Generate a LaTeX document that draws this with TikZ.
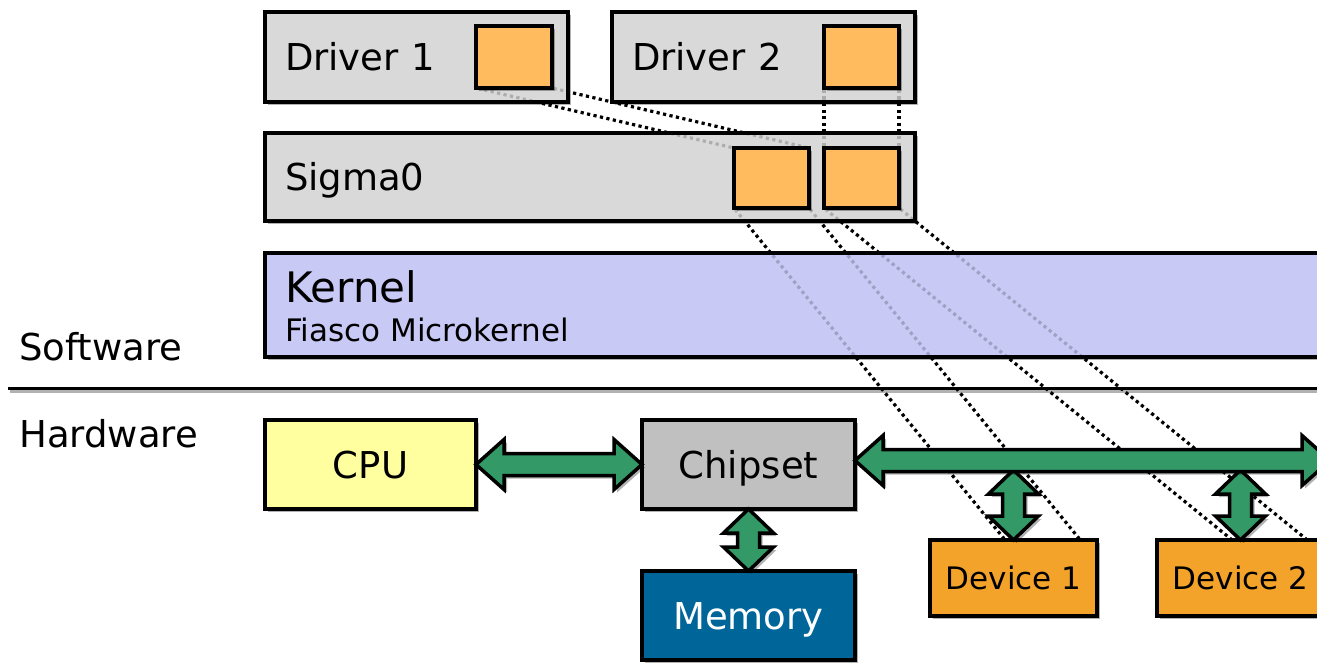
\documentclass[tikz,border=0pt]{standalone}
\usepackage{fontspec}
\setmainfont{DejaVu Sans}
\usetikzlibrary{calc,shadows}
\definecolor{boxgray}{HTML}{D9D9D9}
\definecolor{sqorange}{HTML}{FFBB5E}
\definecolor{kernblue}{HTML}{C9C9F6}
\definecolor{cpuyellow}{HTML}{FFFF9F}
\definecolor{chipgray}{HTML}{C0C0C0}
\definecolor{memblue}{HTML}{006699}
\definecolor{devorange}{HTML}{F4A32A}
\definecolor{busgreen}{HTML}{339966}
\def\arHL{28pt}\def\arHH{25pt}\def\arSH{11pt}
\def\avHL{24pt}\def\avHH{25pt}\def\avSH{11pt}
\newcommand\hfatpath[5]{%
 \path[#3] let \p1=(#1), \p2=(#2) in
 (\x1+#4,\y1-#5) -- (\x1+\arHL+#4,\y1+\arHH-#5) -- (\x1+\arHL+#4,\y1+\arSH-#5)
 -- (\x2-\arHL+#4,\y1+\arSH-#5) -- (\x2-\arHL+#4,\y1+\arHH-#5) -- (\x2+#4,\y1-#5)
 -- (\x2-\arHL+#4,\y1-\arHH-#5) -- (\x2-\arHL+#4,\y1-\arSH-#5)
 -- (\x1+\arHL+#4,\y1-\arSH-#5) -- (\x1+\arHL+#4,\y1-\arHH-#5) -- cycle;}
\newcommand\hfat[2]{\hfatpath{#1}{#2}{arrshadow}{3pt}{3pt}\hfatpath{#1}{#2}{arrbody}{0pt}{0pt}}
\newcommand\vfatpath[5]{%
 \path[#3] let \p1=(#1), \p2=(#2) in
 (\x1+#4,\y1-#5) -- (\x1+\avHH+#4,\y1-\avHL-#5) -- (\x1+\avSH+#4,\y1-\avHL-#5)
 -- (\x1+\avSH+#4,\y2+\avHL-#5) -- (\x1+\avHH+#4,\y2+\avHL-#5) -- (\x1+#4,\y2-#5)
 -- (\x1-\avHH+#4,\y2+\avHL-#5) -- (\x1-\avSH+#4,\y2+\avHL-#5)
 -- (\x1-\avSH+#4,\y1-\avHL-#5) -- (\x1-\avHH+#4,\y1-\avHL-#5) -- cycle;}
\newcommand\vfat[2]{\vfatpath{#1}{#2}{arrshadow}{3pt}{3pt}\vfatpath{#1}{#2}{arrbody}{0pt}{0pt}}
\begin{document}
\begin{tikzpicture}[x=1pt,y=-1pt,
  shad/.style={drop shadow={shadow xshift=3pt,shadow yshift=-3pt,fill=black,opacity=0.3}},
  basebox/.style={draw=black,line width=3.5pt,inner sep=0pt,outer sep=0pt,anchor=north west,shad,
    text height=27pt,text depth=0pt,font=\fontsize{37}{40}\selectfont},
  swbox/.style={basebox,fill=boxgray,align=left,inner xsep=20pt},
  kbox/.style={basebox,fill=kernblue},
  sq/.style={basebox,fill=sqorange},
  hwbox/.style={basebox,align=center},
  devbox/.style={basebox,fill=devorange,align=center,font=\fontsize{31}{34}\selectfont,text height=22.6pt},
  lbl/.style={anchor=base west,inner sep=0pt,font=\fontsize{37}{40}\selectfont},
  dotline/.style={line width=3.2pt,dash pattern=on 3.2pt off 3.4pt,shorten <=1.8pt,shorten >=1.8pt},
  arrshadow/.style={fill=black,opacity=0.3},
  arrbody/.style={fill=busgreen,draw=black,line width=3.5pt,line join=miter}]
\useasboundingbox (0,0) rectangle (1317,662);
\clip (0,0) rectangle (1317,662);
% software boxes
\node[swbox,minimum width=303pt,minimum height=90pt,text width=263pt] (drv1) at (265,12) {Driver 1};
\node[swbox,minimum width=303pt,minimum height=90pt,text width=263pt] (drv2) at (612,12) {Driver 2};
\node[swbox,minimum width=650pt,minimum height=88pt,text width=610pt] (sig) at (265,133) {Sigma0};
\node[kbox,minimum width=1065pt,minimum height=104pt] (kern) at (265,253) {};
\node[lbl,font=\fontsize{42}{45}\selectfont] (ktitle) at (285,302) {Kernel};
\node[lbl,font=\fontsize{31}{34}\selectfont] (ksub) at (285,341) {Fiasco Microkernel};
% memory regions
\node[sq,minimum width=76pt,minimum height=62pt] (d1s) at (476,26) {};
\node[sq,minimum width=75pt,minimum height=62pt] (d2s) at (824,26) {};
\node[sq,minimum width=75pt,minimum height=60pt] (s1s) at (734,148) {};
\node[sq,minimum width=75pt,minimum height=60pt] (s2s) at (824,148) {};
% separator
\coordinate (sepL) at (8,388);
\coordinate (sepR) at (1330,388);
\draw[line width=3pt,black!30] ($(sepL)+(2,3)$) -- ($(sepR)+(2,3)$);
\draw[line width=3pt] (sepL) -- (sepR);
\node[lbl] (swl) at (19,360) {Software};
\node[lbl] (hwl) at (19,447) {Hardware};
% hardware boxes
\node[hwbox,fill=cpuyellow,minimum width=211pt,minimum height=89pt] (cpu) at (265,420) {CPU};
\node[hwbox,fill=chipgray,minimum width=213pt,minimum height=89pt] (chip) at (642,420) {Chipset};
\node[hwbox,fill=memblue,text=white,minimum width=213pt,minimum height=89pt] (mem) at (642,571) {Memory};
\node[devbox,minimum width=167pt,minimum height=76pt] (dev1) at (930,540) {Device 1};
\node[devbox,minimum width=167pt,minimum height=76pt] (dev2) at (1157,540) {Device 2};
\coordinate (d1a) at ($(dev1.north west)!0.45!(dev1.north east)$);
\coordinate (d1b) at ($(dev1.north west)!0.9!(dev1.north east)$);
\coordinate (d2a) at ($(dev2.north west)!0.45!(dev2.north east)$);
\coordinate (d2b) at ($(dev2.north west)!0.9!(dev2.north east)$);
% dotted mapping lines: faint inside the boxes
\begin{scope}
\clip ([shift={(1.75,1.75)}]drv1.north west) rectangle ([shift={(-1.75,-1.75)}]drv1.south east)
      ([shift={(1.75,1.75)}]drv2.north west) rectangle ([shift={(-1.75,-1.75)}]drv2.south east)
      ([shift={(1.75,1.75)}]sig.north west) rectangle ([shift={(-1.75,-1.75)}]sig.south east)
      ([shift={(1.75,1.75)}]kern.north west) rectangle ([shift={(-1.75,-1.75)}]kern.south east);
\begin{scope}[dotline,draw=black,draw opacity=0.2]
\draw (d1s.south west) -- (s1s.north west);
\draw (d1s.south east) -- (s1s.north east);
\draw (d2s.south west) -- (s2s.north west);
\draw (d2s.south east) -- (s2s.north east);
\draw (s1s.south west) -- (d1a);
\draw (s1s.south east) -- (d1b);
\draw (s2s.south west) -- (d2a);
\draw (s2s.south east) -- (d2b);
\end{scope}
\end{scope}
% dotted mapping lines: black outside the boxes
\begin{scope}
\clip (-20,-20) rectangle (1350,700)
      (drv1.south west) rectangle (drv1.north east)
      (drv2.south west) rectangle (drv2.north east)
      (sig.south west) rectangle (sig.north east)
      (kern.south west) rectangle (kern.north east);
\begin{scope}[dotline,draw=black]
\draw (d1s.south west) -- (s1s.north west);
\draw (d1s.south east) -- (s1s.north east);
\draw (d2s.south west) -- (s2s.north west);
\draw (d2s.south east) -- (s2s.north east);
\draw (s1s.south west) -- (d1a);
\draw (s1s.south east) -- (d1b);
\draw (s2s.south west) -- (d2a);
\draw (s2s.south east) -- (d2b);
\end{scope}
\end{scope}
% buses
\coordinate (busL) at ($(chip.east)+(0,-4)$);
\coordinate (busR) at (1330,460.5);
\coordinate (tap1) at ($(dev1.north)+(0,-70)$);
\coordinate (tap2) at ($(dev2.north)+(0,-70)$);
\hfat{cpu.east}{chip.west}
\vfat{chip.south}{mem.north}
\vfat{tap1}{dev1.north}
\vfat{tap2}{dev2.north}
\hfat{busL}{busR}
\end{tikzpicture}
\end{document}
